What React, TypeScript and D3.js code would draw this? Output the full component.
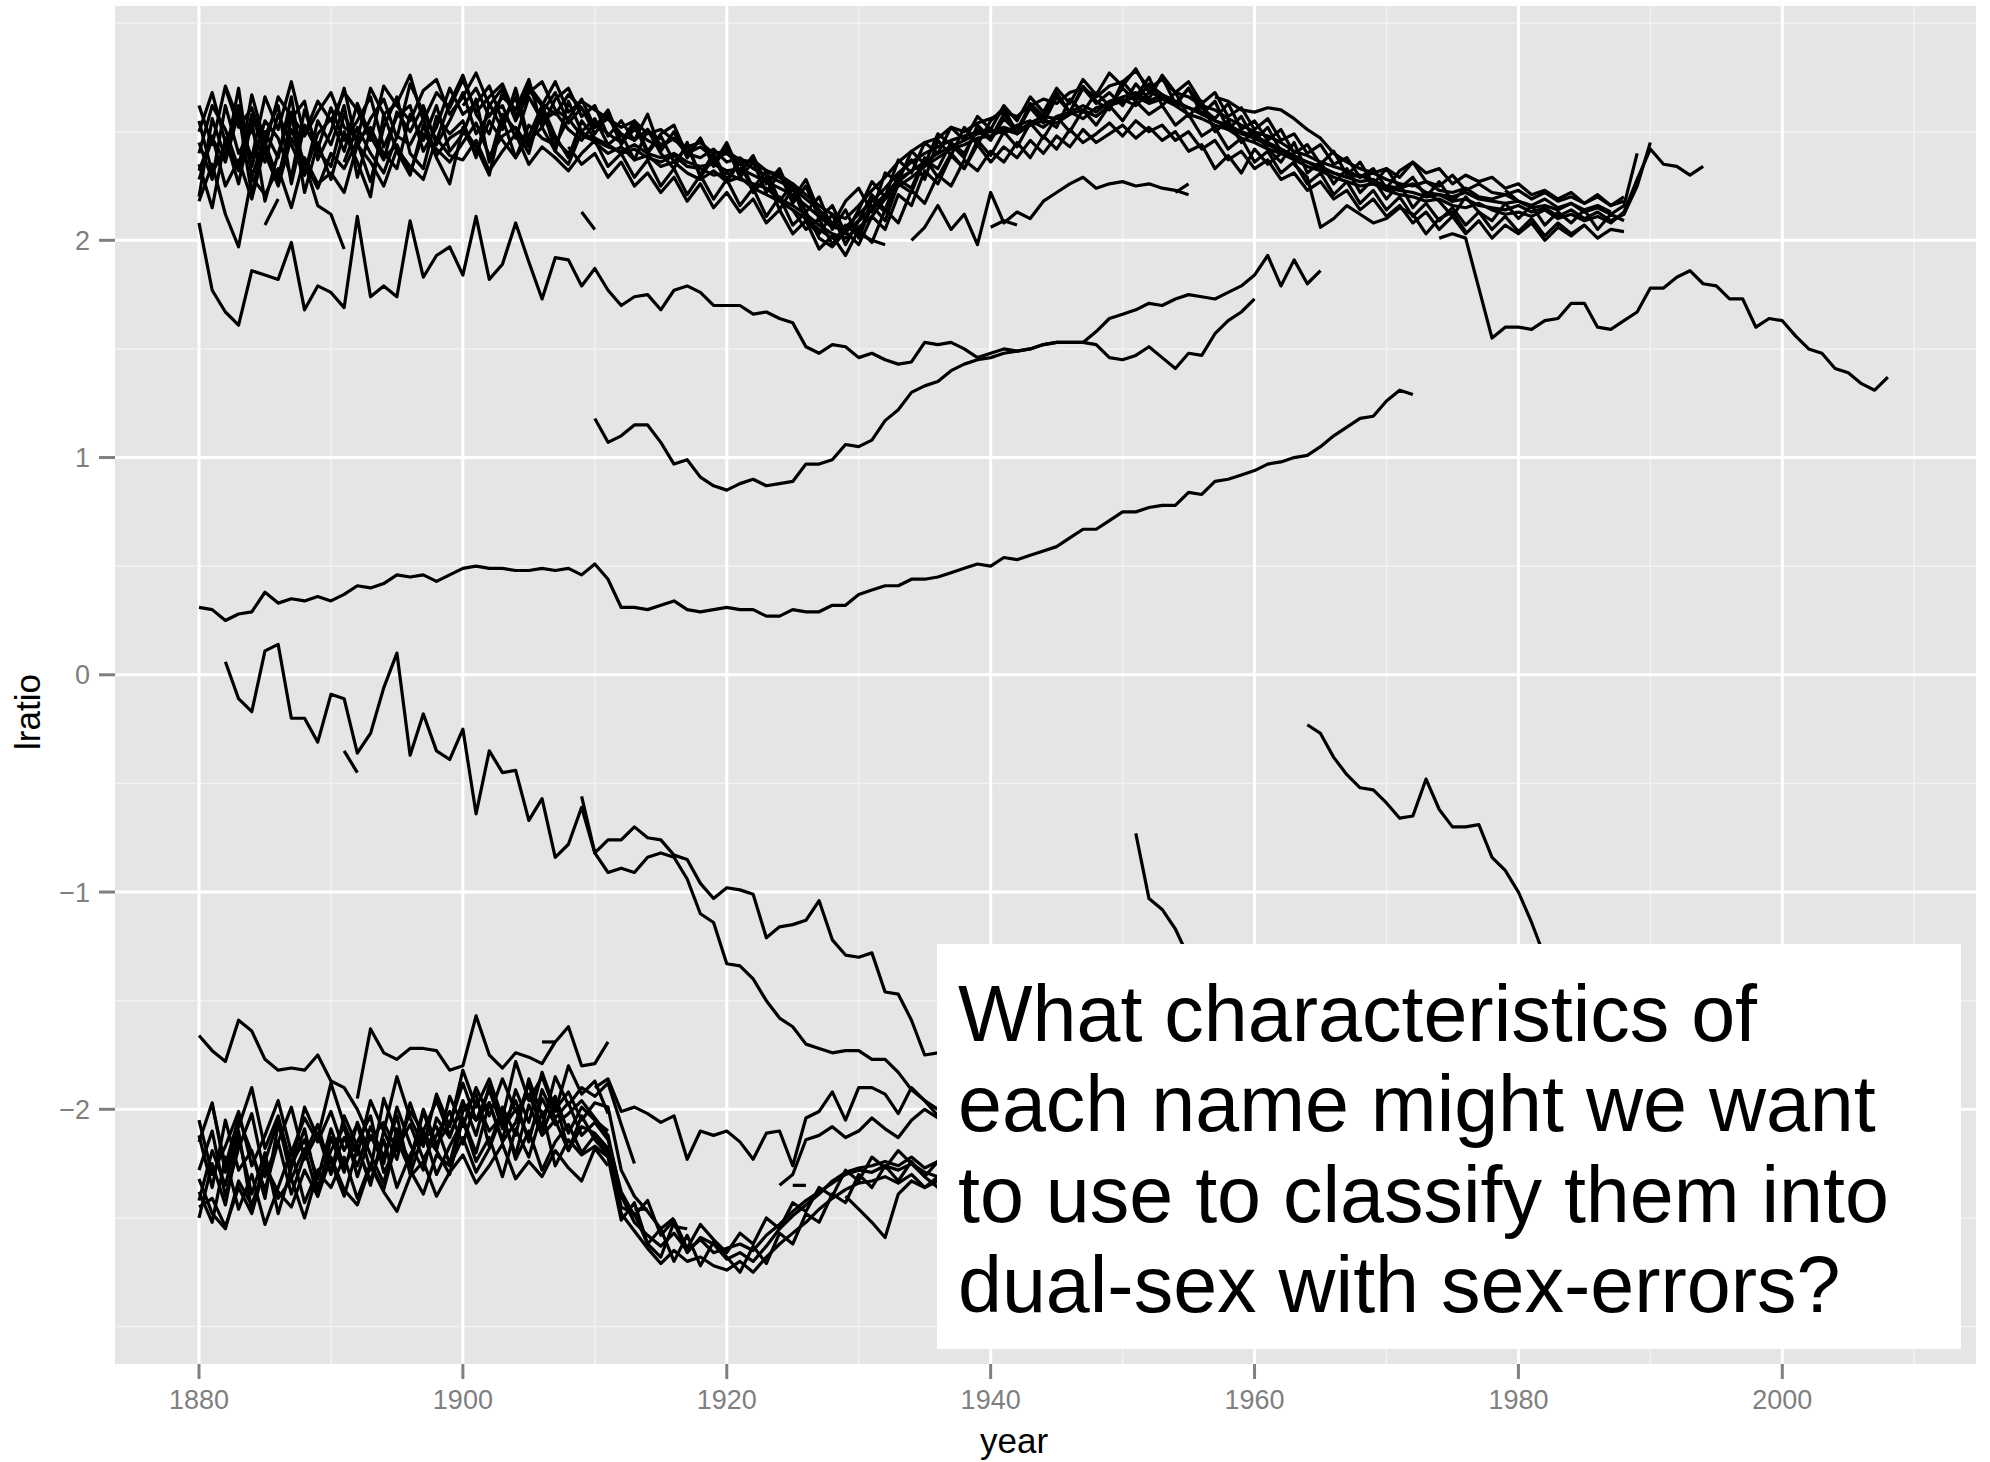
import React from 'react';
import * as d3 from 'd3';

const W = 1990;
const H = 1462;

// axis ticks
const xTicks = [1880, 1900, 1920, 1940, 1960, 1980, 2000];
const xMinor = [1890, 1910, 1930, 1950, 1970, 1990, 2010];
const yTicks = [-2, -1, 0, 1, 2];
const yMinor = [-3, -2.5, -1.5, -0.5, 0.5, 1.5, 2.5, 3];
const xTitle = 'year';
const yTitle = 'lratio';
const note = [
  'What characteristics of',
  'each name might we want',
  'to use to classify them into',
  'dual-sex with sex-errors?',
];

// ---- values are lratio x 100, one per year from the start year ----
// upper cluster
const top01 = [245,228,262,240,251,236,258,244,230,249, 256,241,263,248,237,259,250,262,244,255, 268,249,258,262,247,266,255,259,251,246, 254,249,245,251,246,243,247,240,238,242, 236,238,233,230,227,224,219,214,208,206, 212,218,224,231,236,240,243,246,248,250, 251,249,253,255,252,257,259,256,261,263, 265,262,268,266,263,261,259,255,252,249, 247,244,241,238,236,233,231,229,230,227, 225,224,226,222,221,220,222,219,218,217, 218,215,216,214,217,213,215,212,216,240];
const top02 = [232,248,225,237,219,243,229,251,236,224, 240,233,246,252,238,244,231,249,242,236, 245,254,239,248,252,243,258,246,240,249, 247,244,240,242,238,236,239,234,233,230, 231,228,226,224,219,216,212,207,203,201, 206,211,219,225,229,234,238,242,244,247, 248,251,249,253,255,254,258,260,257,262, 264,266,263,265,262,258,256,253,251,247, 245,242,240,237,234,232,229,227,225,226, 223,221,220,218,219,216,215,217,214,212, 213,211,214,210,212,209,211,208,213,228, 242,235,234,230,234];
const top03 = [220,256,238,270,229,248,262,226,253,241, 234,258,245,227,252,266,240,233,257,249, 255,238,263,251,270,246,252,241,264,250, 256,244,249,237,251,240,233,245,229,238, 227,236,222,229,214,224,209,203,212,198, 209,221,214,230,237,228,246,239,252,244, 255,261,249,263,257,268,259,271,264,260, 273,266,275,262,268,257,264,250,255,245, 250,242,236,245,231,236,226,233,222,228, 219,226,215,222,218,211,220,213,209,217, 210,216,207,213,208,214,205,212,209];
const top04 = [262,244,271,255,238,266,251,273,248,259, 268,252,247,270,258,263,276,255,268,261, 274,259,266,272,257,269,262,273,259,264, 260,256,252,255,249,251,246,243,245,240, 241,237,236,232,230,226,221,216,212,210, 216,223,229,236,241,245,247,252,250,254, 256,259,257,262,265,263,268,270,266,271, 273,278,270,274,268,266,262,260,256,253, 250,248,245,241,239,236,234,232,229,231, 228,226,225,227,223,222,224,220,219,221, 218,216,219,215,217,214,216,213];
const top05 = [218,235,212,197,229,221,233,215,238,226, 231,222,244,236,225,242,234,228,247,239, 237,246,232,241,249,235,243,238,232,240, 246,234,240,229,237,225,233,221,230,219, 228,216,224,211,220,207,213,201,197,204, 198,211,205,221,216,232,226,239,233,246, 239,250,243,254,247,257,250,260,253,262, 255,264,258,262,253,258,248,252,242,247, 236,241,231,236,226,231,221,227,217,223, 214,220,211,217,209,215,207,213,205,211, 204,210,202,208,203,207];
const top06 = [240,262,251,233,267,245,228,256,264,237, 250,270,243,256,265,247,272,259,246,263, 276,258,249,268,260,274,252,265,270,257, 262,248,255,246,258,241,250,238,247,234, 243,229,236,222,231,217,225,210,216,203, 214,227,220,237,231,245,240,252,246,257, 251,262,255,266,259,270,263,274,267,277, 271,279,268,275,263,270,258,264,251,257, 246,252,241];
const top07 = [235,215,247,226,255,218,240,259,222,245, 228,250,236,220,258,241,230,253,238,226, 252,243,230,256,238,248,262,241,235,250, 245,240,243,237,239,234,236,231,228,232, 227,229,224,221,218,214,210,205,201,204, 209,215,221,228,232];
const top08 = [250,268,245,232,258,240,225,247,236,216, 212,196];
const top09 = [270,252,261,243,266,257,249,264, 255,268,260,246,271,262,255,269,274,258, 266,277,262,270,255,268,273,260,256,265, 252,260,245,255,241,249,253,239,247,235, 245,231,239,226,233,219,228,213,207,218, 224,213,231,227,241,235,249,244,238,253, 247,258,251,262,256,252,265,259,268,262, 270,264,272,267,262,270,261,256,263,251, 255,246,251,240,244,235,241,230,236,226, 233,224,229,220,227,218,224];
const top10 = [236,252,240,231,248,244,256,239,247, 251,240,255,246,238,253,247,244,256,248, 246,243,241,244,240,238,240,236,234,235, 232,233,230,227,224,221,216,211,206,205, 209,214,220,227,232,236,240,243,246,249, 250,252,250,254,257,256,259,262,259,264, 266,268,264,267,264,261,258,255,253,250, 248,245,242,239,236,234,231,229,227,228, 224,223,222,220,221,218,219,216,215,214, 216,213,215,211,214,210,213,209,212,225, 245];
const top11 = [262,270,257,266,260,271,263,258,267,261, 249,258,244,253,240,248,236,243,230,240, 228,237,224,232,218,226,213,220,205,214, 201,216,209,226,222,237,233,245,240,251, 246,256,250,261,254,266,259,270,263,268, 262,272,265,276,268,273,263,268,257,261, 251,256,246,249,240,244,235,238,229,233, 224,232,236,227,225,230,223,226,222,221, 223,219,222,218,220,217,221,216,220];
const top12 = [243,235, 240,229,236,225,231,222,229,218,226,215, 222,213,219,208,214,203,209,196,202,193, 205,199,214,208,223,217,230,225,237,232, 241,236,245,238,248,242,251,245,249,254, 248,255,250,253,246,250,242,246,237,241, 233,237,228,231,223,227,219,223,214,219, 211,216,208,213,205,211,203,209,201,207, 203,208,200,206,202,207,201,205,204];
const top13 = [200,206,216,205,212,198,222,208,213,210,218,222,226,229,224,226,227,225,226,224,223,221];
const top14 = [214,205,210,198,207,202,219,213,228,224,238,229,240,233,244,236,243,238,246,240,248,243,251,245,249,253,247,252,246,250,241,244,233,239,231,242,235,240];
const top15 = [266,264,260,259,261,260,256,251,247,240,236,233,231,233,229,236,231,233,226,230,227,229,224,226,221,223,219,222,217,220,216,218];
const top16 = [235,229,206,210,216,212,208,210,215,212,203,210,213,204];
const top17 = [228,247,236,259,221,250,238,266,230,255, 244,262,229,251,240,233,258,246,262,241, 249,265,236,258,251,240,262,248,238,255, 247,243];
const top18 = [255,231,243,262,234,255,247,229,260,242, 261,246,255,266,243,257,262,241,252,270, 258,263,271,255,266,244,259,268,254,261, 252,256,249,246,251,244,247,240,243,238, 240,235,237,232,229,225];
const dashA = [207,219];
const dashB = [213,205];
const dashC = [206,209,207];
const dashD = [222,226];
const dashE = [230,227];
const dashF = [223,218];
const dashG = [203,200,198];

// separate trajectories
const mid01 = [208,177,167,161,186,184,182,199,168,179, 176,169,211,174,179,174,209,183,193,197, 184,211,182,189,208,190,173,192,191,179, 187,177,170,174,175,168,177,179,176,170, 170,170,166,167,164,162,151,148,152,151, 146,148,145,143,144,153,152,153,150,146, 148,150,149,150,152,153,153,153,158,164, 166,168,171,170,173,175,174,173,176,179, 184,193,179,191,180,186];
const mid02 = [118,107,110,115,115,107,97,99,91,87, 85,88,90,87,88,89,97,97,99,106, 105,108,117,122,130,133,135,140,143,145, 146,148,149,150,152,153,153,153,152,146, 145,147,151,146,141,148,147,157,163,167, 173];
const mid03 = [31,30,25,28,29,38,33,35,34,36, 34,37,41,40,42,46,45,46,43,46, 49,50,49,49,48,48,49,48,49,46, 51,44,31,31,30,32,34,30,29,30, 31,30,30,27,27,30,29,29,32,32, 37,39,41,41,44,44,45,47,49,51, 50,54,53,55,57,59,63,67,67,71, 75,75,77,78,78,84,83,89,90,92, 94,97,98,100,101,105,110,114,118,119, 126,131,129];
const mid04 = [6,-11,-17,11,14,-20,-20,-31, -9,-11,-36,-27,-6,10,-37,-18,-35,-39, -25,-64,-35,-45,-44,-67,-57,-84,-78,-61, -82,-76,-76,-70,-75,-76,-83,-85,-96,-103, -98,-99,-101,-121,-116,-115,-113,-104,-122,-129, -130,-128,-146,-147,-159,-175,-174,-180];
const mid05 = [-56, -82,-91,-89,-91,-84,-82,-84,-94,-110,-114, -133,-134,-140,-150,-158,-162,-170,-172,-174,-173, -173,-177,-177,-183,-191,-196,-203,-210];
const mid06 = [-35,-45];
const mid07 = [-73,-103,-108,-117,-130,-140,-150];
const mid08 = [-23,-27,-38,-46,-52,-53,-59,-66,-65,-48,-62,-70,-70,-69,-84,-90,-100,-114,-130,-140];
const mid09 = [201,203,201,178,155,160,160,159,163,164,171,171,160,159,163,167,178,178,183,186,180,179,173,173,160,164,163,156,150,148,141,139,134,131,137];

// lower cluster
const low01 = [-166,-173,-178,-159,-164,-177,-182,-181,-182,-175, -187,-190,-200,-214,-206,-219,-201,-210,-196,-212, -198,-205,-191,-209,-200,-213,-195,-207,-202,-196, -204,-212,-240,-252,-258,-263,-257,-265,-260,-266, -264,-262,-265,-258,-253,-247,-242,-238,-234,-230, -228,-229,-226,-228,-225,-229,-231,-228];
const low02 = [-195,-163,-174,-177,-172,-172,-173,-182, -180,-157,-175,-181,-174,-176,-179,-169,-162,-180, -179,-169];
const low03 = [-212,-236,-205,-228,-219,-241,-207,-225,-214,-232, -209,-226,-215,-203,-229,-218,-207,-223,-212,-201, -216,-196,-210,-203,-221,-198,-212,-205,-219,-208, -211,-218,-245,-248,-262,-268,-252,-266,-259,-262, -269,-266,-270,-263,-255,-249,-244,-239,-233,-229, -227,-226,-224,-226,-222,-227,-224,-229];
const low04 = [-238,-252,-222,-246,-230,-253,-236,-219,-243,-228, -224,-240,-218,-233,-214,-236,-221,-210,-230,-217, -205,-224,-213,-231,-209,-222,-201,-226,-214,-221, -217,-222,-251,-243,-262,-255,-270,-258,-272,-261, -268,-275,-263,-271,-257,-262,-248,-252,-239,-243, -230,-236,-226,-233,-224,-231,-236,-228];
const low05 = [-250,-225,-244,-213,-239,-220,-248,-227,-209,-236, -219,-208,-231,-212,-225,-199,-216,-228,-204,-213, -196,-212,-189,-207,-196,-215,-191,-204,-197,-212, -206,-214,-238,-249,-242,-258,-251,-264,-253,-260, -266,-257,-262,-250,-255,-243,-247,-236,-240,-228, -233,-222,-227,-219,-225,-231,-224,-229];
const low06 = [-228,-210,-240,-218,-202,-231,-215,-239,-221,-207, -229,-213,-226,-208,-222,-203,-230,-211,-219,-194, -208,-190,-203,-186,-201,-193,-208,-185,-198,-190, -194,-188,-207,-225];
const low07 = [-190,-186,-201,-199,-202,-206,-203,-223,-210,-212, -210,-215,-223,-211,-210,-226,-204,-201,-192,-205, -190,-190,-193,-202,-190,-196,-200,-197];
const low08 = [-235,-230,-214,-212,-208,-213,-210,-204,-209,-213,-205,-200,-204,-203];
const low09 = [-240,-246,-252,-259,-239,-233,-236,-231,-235];
const low10 = [-245,-241,-254,-236,-248,-226,-241,-232,-250,-229, -236,-222,-241,-225,-237,-214,-228,-239,-221,-226, -213,-229,-218,-202,-223,-210,-228,-215,-207,-220, -212,-219,-248,-256,-264,-271,-265,-270,-268,-272, -274,-270,-275,-268,-262,-257,-252,-246,-241,-237, -234,-233,-231,-234,-230,-236,-233,-235];
const low11 = [-198,-226,-204,-220,-237,-215,-199,-223,-211, -230,-203,-217,-235,-210,-223,-197,-214,-208,-225, -201,-193,-217,-199,-212,-186,-203,-194,-211,-199, -205,-210];
const low12 = [-232,-248,-255,-233,-244,-226,-238,-245,-228,-240, -222,-237,-244,-226,-238,-247,-231,-224,-240,-229, -221,-234,-226,-216,-232,-224,-231,-219,-227,-233, -218,-226];
const low13 = [-205,-230,-217,-201,-226,-212,-196,-220,-204,-215, -201,-219,-207,-228,-195,-212,-224,-200,-216,-207, -188,-205,-197,-214,-191,-206,-183,-200,-192,-205, -197,-199,-228,-240,-247,-255,-250];
const low14 = [-215,-197,-229,-208,-190,-218,-203,-226,-199,-213, -188,-207,-221,-196,-210,-185,-204,-217,-193,-208, -182,-199,-186,-204,-178,-196,-185,-201,-180,-193, -187,-202];
const low15 = [-242,-219,-235,-210,-247,-224,-205,-232,-218,-240, -213,-229,-206,-221,-234,-209,-226,-201,-219,-230, -204,-220,-197,-215,-206,-188,-211,-196,-219,-203, -214,-221];
const lowDashA = [-246,-246];
const lowDashB = [-254,-255];
const lowDashC = [-235,-235];
const lowDashD = [-169,-169];

// start year of each line
const series: { start: number; values: number[] }[] = [
  { start: 1880, values: top01 }, { start: 1880, values: top02 }, { start: 1880, values: top03 },
  { start: 1880, values: top04 }, { start: 1880, values: top05 }, { start: 1880, values: top06 },
  { start: 1880, values: top07 }, { start: 1880, values: top08 }, { start: 1882, values: top09 },
  { start: 1891, values: top10 }, { start: 1900, values: top11 }, { start: 1908, values: top12 },
  { start: 1934, values: top13 }, { start: 1925, values: top14 }, { start: 1957, values: top15 },
  { start: 1963, values: top16 }, { start: 1880, values: top17 }, { start: 1880, values: top18 },
  { start: 1885, values: dashA }, { start: 1909, values: dashB }, { start: 1940, values: dashC },
  { start: 1954, values: dashD }, { start: 1976, values: dashE }, { start: 1979, values: dashF },
  { start: 1930, values: dashG },
  { start: 1880, values: mid01 }, { start: 1910, values: mid02 }, { start: 1880, values: mid03 },
  { start: 1882, values: mid04 }, { start: 1909, values: mid05 }, { start: 1891, values: mid06 },
  { start: 1951, values: mid07 }, { start: 1964, values: mid08 }, { start: 1974, values: mid09 },
  { start: 1880, values: low01 }, { start: 1892, values: low02 }, { start: 1880, values: low03 },
  { start: 1880, values: low04 }, { start: 1880, values: low05 }, { start: 1880, values: low06 },
  { start: 1910, values: low07 }, { start: 1924, values: low08 }, { start: 1929, values: low09 },
  { start: 1880, values: low10 }, { start: 1881, values: low11 }, { start: 1880, values: low12 },
  { start: 1880, values: low13 }, { start: 1880, values: low14 }, { start: 1880, values: low15 },
  { start: 1913, values: lowDashA }, { start: 1916, values: lowDashB },
  { start: 1925, values: lowDashC }, { start: 1906, values: lowDashD },
];

const panel = { left: 115, right: 1976, top: 6, bottom: 1364 };

export default function App() {
  const x = d3.scaleLinear().domain([1880, 2000]).range([199, 1782.3]);
  const y = d3.scaleLinear().domain([-2, 2]).range([1109.3, 240.3]);
  const fmt = d3.format('d');

  const makeLine = (start: number) =>
    d3
      .line<number>()
      .x((_, i) => x(start + i))
      .y((v) => y(v / 100));

  const grey = '#7F7F7F';
  const font = '"Liberation Sans", Arial, Helvetica, sans-serif';

  return (
    <svg
      width={W}
      height={H}
      style={{ position: 'absolute', left: 0, top: 0, background: '#fff' }}
      fontFamily={font}
    >
      <defs>
        <clipPath id="panelClip">
          <rect x={panel.left} y={panel.top} width={panel.right - panel.left} height={panel.bottom - panel.top} />
        </clipPath>
      </defs>
      <rect x={panel.left} y={panel.top} width={panel.right - panel.left} height={panel.bottom - panel.top} fill="#E5E5E5" />
      {yMinor.map((t) => (
        <line key={'ym' + t} x1={panel.left} x2={panel.right} y1={y(t)} y2={y(t)} stroke="#F2F2F2" strokeWidth={1.5} />
      ))}
      {xMinor.map((t) => (
        <line key={'xm' + t} y1={panel.top} y2={panel.bottom} x1={x(t)} x2={x(t)} stroke="#F2F2F2" strokeWidth={1.5} />
      ))}
      {yTicks.map((t) => (
        <line key={'yM' + t} x1={panel.left} x2={panel.right} y1={y(t)} y2={y(t)} stroke="#FFFFFF" strokeWidth={3} />
      ))}
      {xTicks.map((t) => (
        <line key={'xM' + t} y1={panel.top} y2={panel.bottom} x1={x(t)} x2={x(t)} stroke="#FFFFFF" strokeWidth={3} />
      ))}
      <g clipPath="url(#panelClip)">
        {series.map((s, i) => (
          <path
            key={'s' + i}
            d={makeLine(s.start)(s.values) || ''}
            fill="none"
            stroke="#000"
            strokeWidth={3.2}
            strokeLinejoin="round"
          />
        ))}
      </g>
      {/* annotation */}
      <rect x={937} y={944} width={1024} height={405} fill="#FFFFFF" />
      {note.map((line, i) => (
        <text key={'n' + i} x={958} y={1041 + i * 90.3} fontSize={79} fill="#000">
          {line}
        </text>
      ))}
      {/* axes */}
      {xTicks.map((t) => (
        <g key={'xt' + t}>
          <line x1={x(t)} x2={x(t)} y1={panel.bottom} y2={panel.bottom + 15} stroke={grey} strokeWidth={3} />
          <text x={x(t)} y={1409} fontSize={27} fill={grey} textAnchor="middle">
            {fmt(t)}
          </text>
        </g>
      ))}
      {yTicks.map((t) => (
        <g key={'yt' + t}>
          <line x1={panel.left - 16} x2={panel.left} y1={y(t)} y2={y(t)} stroke={grey} strokeWidth={3} />
          <text x={90} y={y(t) + 9.5} fontSize={27} fill={grey} textAnchor="end">
            {fmt(t)}
          </text>
        </g>
      ))}
      <text x={1014} y={1453} fontSize={35} fill="#000" textAnchor="middle">
        {xTitle}
      </text>
      <text
        transform={`translate(40, 712) rotate(-90)`}
        fontSize={35}
        fill="#000"
        textAnchor="middle"
      >
        {yTitle}
      </text>
    </svg>
  );
}
